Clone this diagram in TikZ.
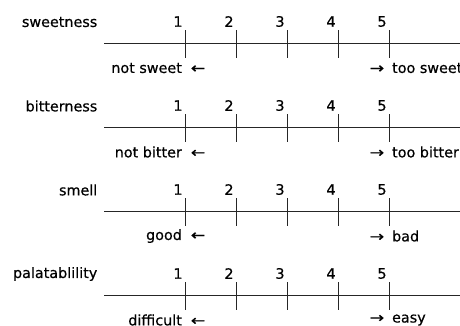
\documentclass[tikz,border=0pt]{standalone}
\usepackage{graphicx}
\usepackage{fontspec}
\setmainfont{DejaVu Sans}
\newfontfamily\labfont{DejaVu Sans}[FakeBold=0.5]
\newcommand{\larr}{\scalebox{1.2}[1]{←}}
\newcommand{\rarr}{\scalebox{1.2}[1]{→}}
\begin{document}
\begin{tikzpicture}[x=1bp,y=-1bp,
  txt/.style={inner sep=0pt, font=\labfont\fontsize{14.4}{16}\selectfont, text=black},
  scaleline/.style={line width=1.2bp, draw=black!85},
  tickline/.style={line width=1.2bp, draw=black!85}]
\useasboundingbox (0,0) rectangle (460,325);
\foreach \r/\y/\name/\lo/\hi in {
  a/43.5/sweetness/not sweet/too sweet,
  b/127.5/bitterness/not bitter/too bitter,
  c/211.5/smell/good/bad,
  d/295.5/palatablility/difficult/easy}{
  \node[txt, anchor=east] (lab\r) at (97.5,\y-21.5) {\name};
  \coordinate (L\r) at (104,\y);
  \coordinate (R\r) at (461,\y);
  \draw[scaleline] (L\r) -- (R\r);
  \foreach \i/\x in {1/185.5,2/236.5,3/287.5,4/338.5,5/389.5}{
    \coordinate (t\r\i a) at (\x,\y-13.5);
    \coordinate (t\r\i b) at (\x,\y+14.5);
    \draw[tickline] (t\r\i a) -- (t\r\i b);
    \node[txt] (n\r\i) at (\x-7.5,\y-22) {\i};
  }
  \node[txt, anchor=east] (lo\r) at (205.5,\y+24.5) {\lo\hspace{9bp}\larr};
  \node[txt, anchor=west] (hi\r) at (369.5,\y+24.5) {\rarr\hspace{8bp}\hi};
}
\end{tikzpicture}
\end{document}
